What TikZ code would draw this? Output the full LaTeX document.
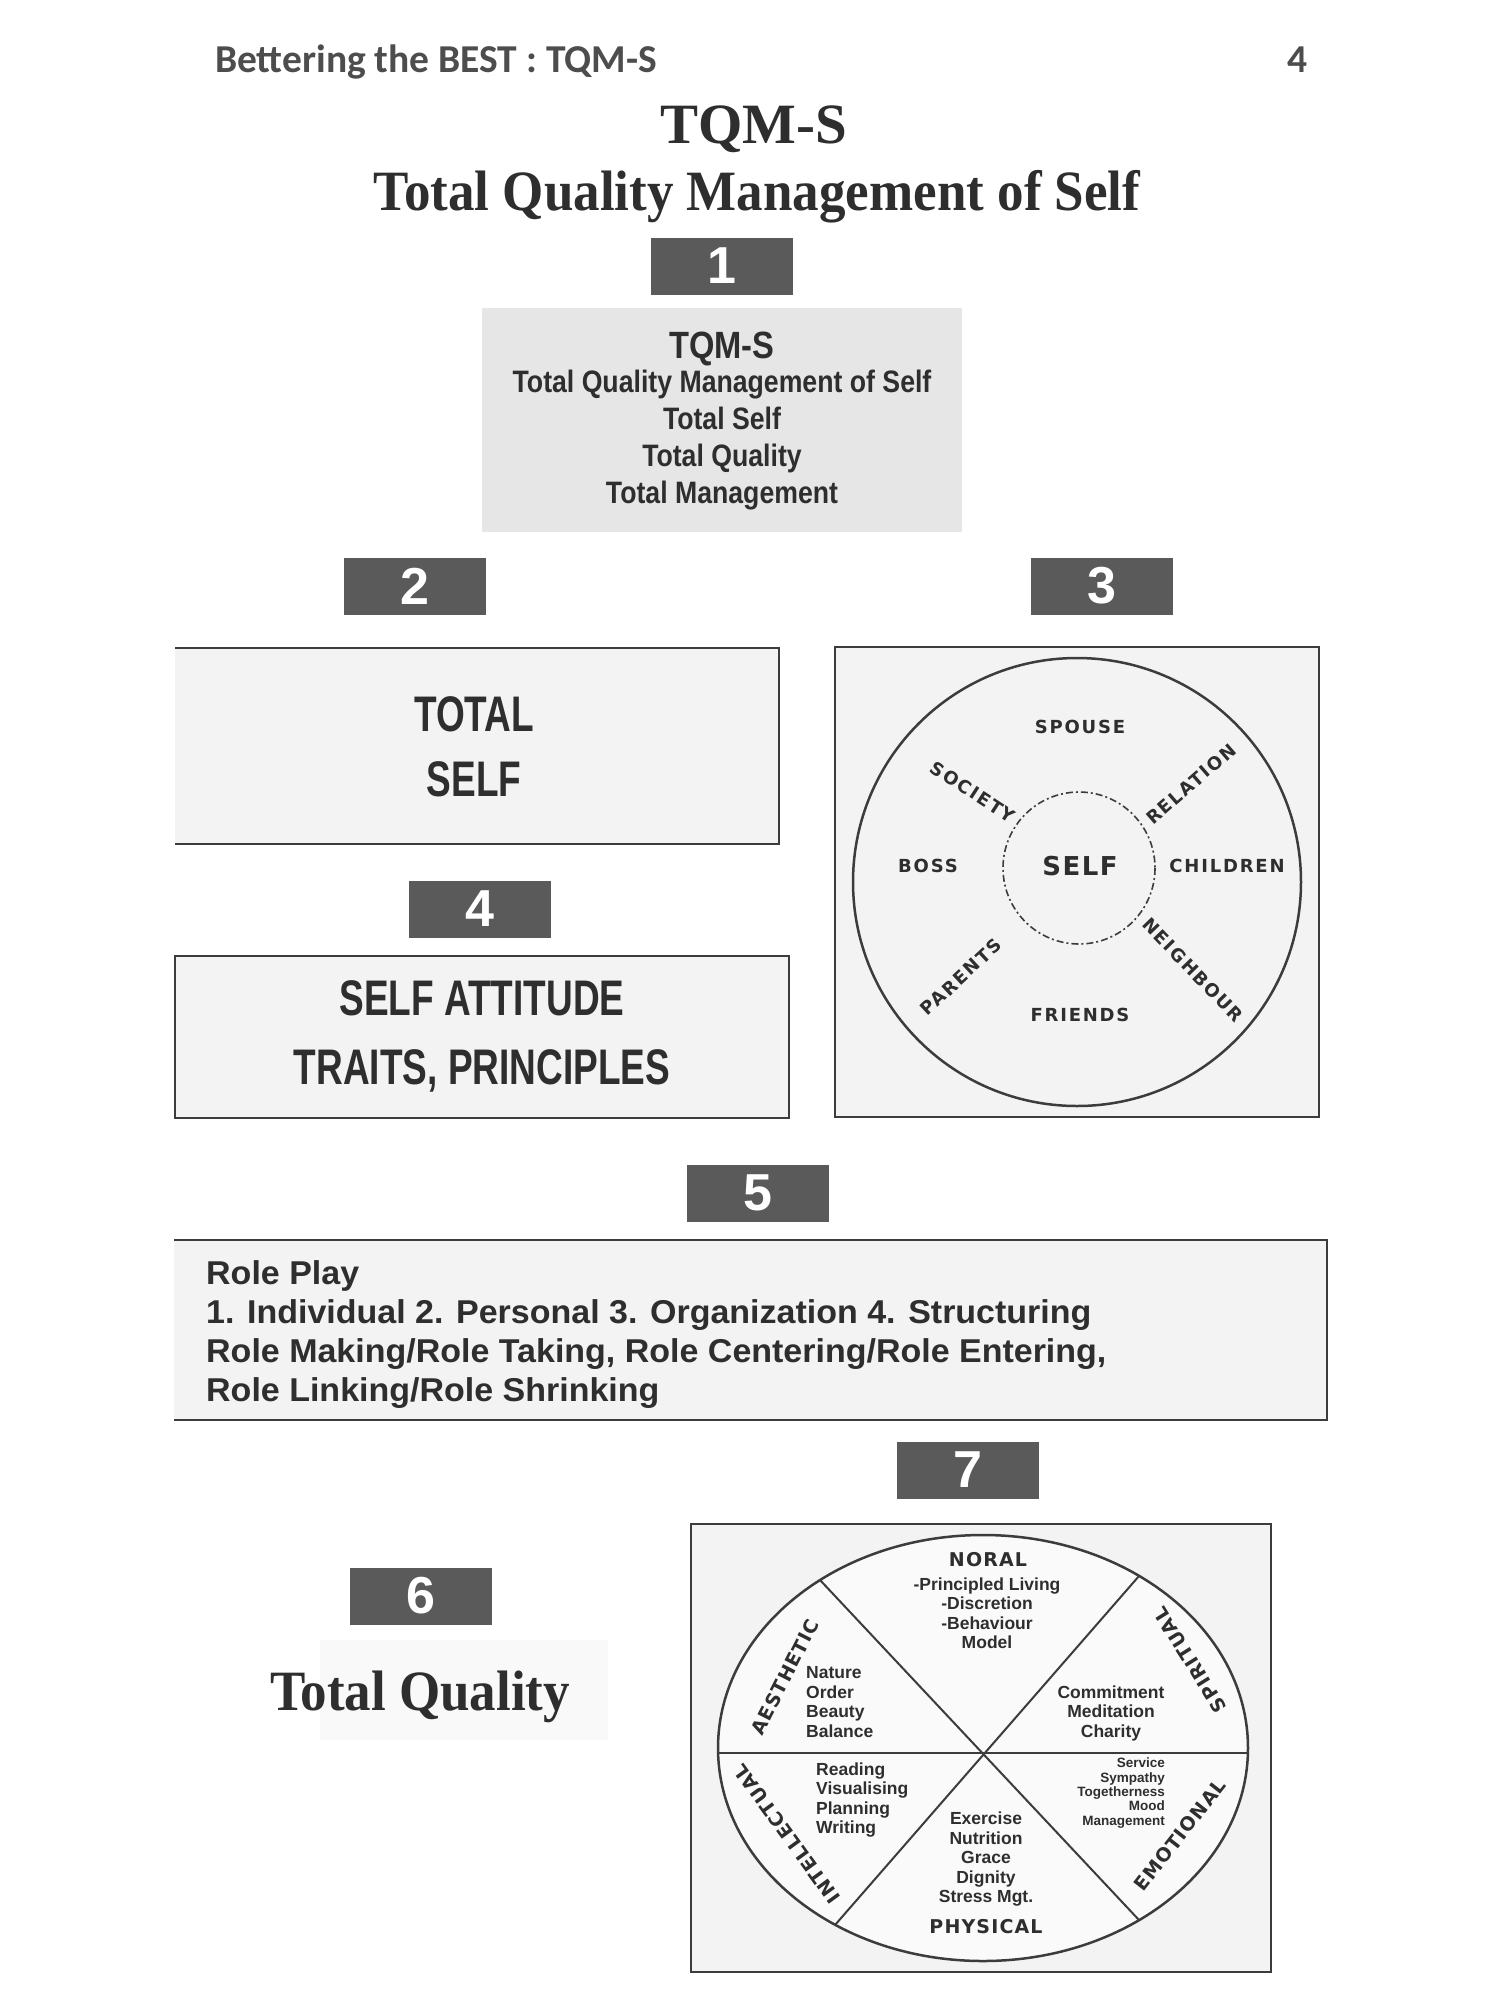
\documentclass[tikz,border=0pt]{standalone}
\usepackage{fontspec}
\setmainfont{Liberation Sans}
\newfontfamily\headfont{Carlito}
\newfontfamily\titlefont{Liberation Serif}
\newfontfamily\titlenarrow[FakeStretch=0.93]{Liberation Serif}
\newfontfamily\condfont[FakeStretch=0.74]{Liberation Sans}
\newfontfamily\narrowfont[FakeStretch=0.86]{Liberation Sans}
\newfontfamily\widefont[FakeStretch=1.03]{Liberation Sans}
\newfontfamily\platefont[LetterSpace=10]{DejaVu Sans}
\newfontfamily\wheelfont[LetterSpace=6]{DejaVu Sans}

\definecolor{tagfill}{HTML}{5A5A5A}
\definecolor{boxfill}{HTML}{F3F3F3}
\definecolor{greyfill}{HTML}{E6E6E6}
\definecolor{ink}{HTML}{2E2E2E}
\definecolor{linegray}{HTML}{3C3C3C}

\tikzset{
  tag/.style={fill=tagfill, text=white, minimum width=142pt, minimum height=57pt, inner sep=0pt, font=\bfseries\fontsize{52}{52}\selectfont},
  frame/.style={draw=linegray, line width=2.5pt},
  ring/.style={text=ink, font=\platefont\bfseries\fontsize{18}{18}\selectfont},
  wheel/.style={text=ink, font=\wheelfont\bfseries\fontsize{19}{19}\selectfont},
  fine/.style={text=ink, align=center, inner sep=0pt, font=\bfseries\fontsize{17.5}{19.5}\selectfont},
}

\begin{document}
\begin{tikzpicture}[x=1pt,y=-1pt]
\useasboundingbox[fill=white] (0,0) rectangle (1500,2000);

% page header
\node[anchor=base west, inner sep=0pt, text=ink!85, font=\headfont\bfseries\fontsize{39.5}{39.5}\selectfont] (header) at (215,72) {Bettering the BEST : TQM-S};
\node[anchor=base, inner sep=0pt, text=ink!85, font=\headfont\bfseries\fontsize{39.5}{39.5}\selectfont] (pageno) at (1297,72) {4};

% title
\node[anchor=base, inner sep=0pt, text=ink, font=\titlefont\bfseries\fontsize{57}{57}\selectfont] (title) at (754,143) {TQM-S};
\node[anchor=base, inner sep=0pt, text=ink, font=\titlenarrow\bfseries\fontsize{57}{57}\selectfont] (subtitle) at (757,210) {Total Quality Management of Self};

% 1: TQM-S
\node[tag] (t1) at (722,266) {1};
\fill[greyfill] (482,308) rectangle (962,532);
\node[anchor=base, inner sep=0pt, text=ink, font=\narrowfont\bfseries\fontsize{38}{38}\selectfont] (tqmhead) at (722,358) {TQM-S};
\node[text=ink, align=center, inner sep=0pt, font=\narrowfont\bfseries\fontsize{31}{37}\selectfont] (tqmtext) at (722,440) {Total Quality Management of Self\\Total Self\\Total Quality\\Total Management};

% 2: total self
\node[tag] (t2) at (415,586) {2};
\fill[boxfill] (175,648) rectangle (779,844);
\draw[frame] (175,648) -- (779,648) -- (779,844) -- (175,844);
\node[text=ink, align=center, inner sep=0pt, font=\condfont\bfseries\fontsize{50}{65}\selectfont] (totalself) at (474,747) {TOTAL\\SELF};

% 4: attitude
\node[tag] (t4) at (480,909) {4};
\draw[frame, fill=boxfill] (175,956) rectangle (789,1118);
\node[text=ink, align=center, inner sep=0pt, font=\condfont\bfseries\fontsize{50}{69}\selectfont] (attitude) at (482,1036) {SELF ATTITUDE\\TRAITS, PRINCIPLES};

% 3: circle of relations
\node[tag] (t3) at (1102,586) {3};
\draw[frame, fill=boxfill] (835,647) rectangle (1319,1117);
\draw[frame] (1077,882) circle[radius=224];
\draw[draw=linegray, line width=1.6pt, dash pattern=on 7pt off 3pt on 2pt off 3pt] (1079,868) circle[radius=76];
\node[ring] (spouse) at (1080,727) {SPOUSE};
\node[ring, rotate=-33] (society) at (973,792) {SOCIETY};
\node[ring, rotate=41] (relation) at (1191,784) {RELATION};
\node[ring] (boss) at (928,866) {BOSS};
\node[ring, font=\wheelfont\bfseries\fontsize{26}{26}\selectfont] (self) at (1080,866) {SELF};
\node[ring] (children) at (1227,866) {CHILDREN};
\node[ring, rotate=43] (parents) at (961,977) {PARENTS};
\node[ring, rotate=-46] (neighbour) at (1193,970) {NEIGHBOUR};
\node[ring] (friends) at (1080,1015) {FRIENDS};

% 5: role play
\node[tag] (t5) at (758,1193) {5};
\fill[boxfill] (174,1240) rectangle (1327,1420);
\draw[frame] (174,1240) -- (1327,1240) -- (1327,1420) -- (174,1420);
\node[anchor=west, align=left, inner sep=0pt, text=ink, font=\widefont\bfseries\fontsize{33}{39}\selectfont] (roleplay) at (206,1335) {Role Play\\1. Individual 2. Personal 3. Organization 4. Structuring\\Role Making/Role Taking, Role Centering/Role Entering,\\Role Linking/Role Shrinking};

% 6: total quality
\node[tag] (t6) at (421,1596) {6};
\fill[black!2.5] (320,1640) rectangle (608,1740);
\node[anchor=base, inner sep=0pt, text=ink, font=\titlenarrow\bfseries\fontsize{57}{57}\selectfont] (quality) at (420,1710) {Total Quality};

% 7: wheel
\node[tag] (t7) at (968,1470) {7};
\draw[frame, fill=boxfill] (691,1524) rectangle (1271,1972);
\draw[frame, fill=white!60!boxfill] (983,1748) ellipse[x radius=265, y radius=213];
\coordinate (ul) at (820,1580);
\coordinate (ur) at (1139,1576);
\coordinate (ll) at (835,1925);
\coordinate (lr) at (1139,1920);
\draw[draw=linegray, line width=2pt] (718,1753) -- (1248,1753);
\draw[draw=linegray, line width=2pt] (ul) -- (lr);
\draw[draw=linegray, line width=2pt] (ur) -- (ll);

\node[wheel] (moral) at (988,1560) {NORAL};
\node[wheel, rotate=63] (aesthetic) at (785,1677) {AESTHETIC};
\node[wheel, rotate=122] (spiritual) at (1190,1660) {SPIRITUAL};
\node[wheel, rotate=126] (intellectual) at (787,1834) {INTELLECTUAL};
\node[wheel, rotate=52] (emotional) at (1180,1835) {EMOTIONAL};
\node[wheel] (physical) at (986,1927) {PHYSICAL};

\node[fine] (moraltext) at (987,1613) {-Principled Living\\-Discretion\\-Behaviour\\Model};
\node[fine, align=left, anchor=west] (aesthtext) at (806,1702) {Nature\\Order\\Beauty\\Balance};
\node[fine] (spirittext) at (1111,1713) {Commitment\\Meditation\\Charity};
\node[fine, align=right, anchor=east, font=\bfseries\fontsize{13.5}{14.3}\selectfont] (emotext) at (1165,1793) {Service\\Sympathy\\Togetherness\\Mood\\Management};
\node[fine, align=left, anchor=west] (intelltext) at (816,1800) {Reading\\Visualising\\Planning\\Writing};
\node[fine] (phystext) at (986,1859) {Exercise\\Nutrition\\Grace\\Dignity\\Stress Mgt.};

\end{tikzpicture}
\end{document}
